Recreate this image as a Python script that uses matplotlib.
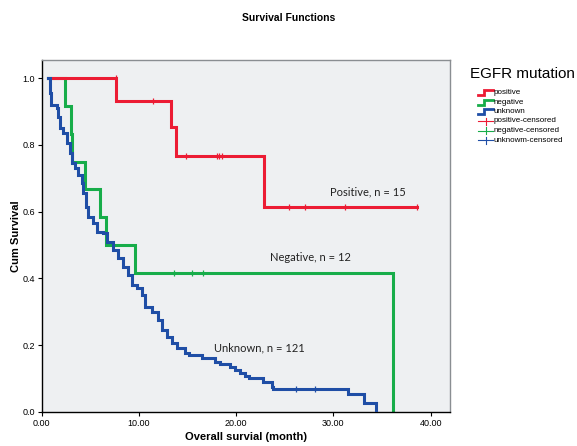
import matplotlib
matplotlib.use("Agg")
import matplotlib.pyplot as plt
from matplotlib.lines import Line2D

# ---------------- data ----------------
pos_t = [0.68, 7.65, 13.3, 13.8, 22.9, 38.6]
pos_s = [1.0, 0.932, 0.855, 0.768, 0.615, 0.615]
pos_cens_t = [7.6, 11.4, 14.85, 18.07, 18.27, 18.55, 25.44, 27.06, 31.2, 38.6]
pos_cens_s = [1.0, 0.932, 0.768, 0.768, 0.768, 0.768, 0.615, 0.615, 0.615, 0.615]

neg_t = [0.68, 2.4, 3.0, 3.08, 4.45, 6.0, 6.6, 9.55, 36.1]
neg_s = [1.0, 0.917, 0.833, 0.75, 0.667, 0.583, 0.5, 0.417, 0.0]
neg_cens_t = [13.6, 15.5, 16.6]
neg_cens_s = [0.417, 0.417, 0.417]

unk_t = [0.68, 0.85, 0.96, 1.54, 1.71, 1.88, 2.22, 2.57, 2.91, 3.09, 3.43,
         3.77, 4.12, 4.28, 4.56, 4.80, 5.31, 5.66, 6.34, 6.69, 7.37, 7.88,
         8.40, 8.91, 9.26, 9.77, 10.29, 10.63, 11.30, 12.00, 12.35, 12.86,
         13.37, 13.90, 14.74, 15.10, 16.46, 17.83, 18.34, 19.4, 19.9, 20.4,
         20.9, 21.3, 22.8, 23.7, 23.8, 31.5, 33.1, 34.4]
unk_s = [1.0, 0.955, 0.92, 0.91, 0.885, 0.85, 0.835, 0.805, 0.775, 0.745, 0.73,
         0.71, 0.685, 0.655, 0.615, 0.585, 0.565, 0.54, 0.535, 0.51, 0.485, 0.46,
         0.435, 0.41, 0.38, 0.37, 0.35, 0.315, 0.30, 0.275, 0.245, 0.225,
         0.205, 0.19, 0.177, 0.17, 0.16, 0.15, 0.142, 0.135, 0.125, 0.117,
         0.108, 0.10, 0.09, 0.075, 0.068, 0.053, 0.027, 0.0]
unk_cens_t = [26.2, 28.1]
unk_cens_s = [0.068, 0.068]

x_ticks = [0, 10, 20, 30, 40]
x_labels = ["0.00", "10.00", "20.00", "30.00", "40.00"]
y_ticks = [0.0, 0.2, 0.4, 0.6, 0.8, 1.0]
y_labels = ["0.0", "0.2", "0.4", "0.6", "0.8", "1.0"]

legend_labels = ["positive", "negative", "unknown",
                 "positive-censored", "negative-censored", "unknowm-censored"]
annotations = [("Positive, n = 15", 29.7, 0.659),
               ("Negative, n = 12", 23.5, 0.462),
               ("Unknown, n = 121", 17.7, 0.19)]

RED = "#EC1C34"
GREEN = "#17AD4A"
BLUE = "#1F4EA6"

# ---------------- figure ----------------
fig = plt.figure(figsize=(5.77, 4.46), dpi=100)
fig.patch.set_facecolor("white")
ax = fig.add_axes([0.0723, 0.0769, 0.7068, 0.7886])
ax.set_facecolor("#EEF0F2")

lw = 2.2
ax.step(pos_t, pos_s, where="post", color=RED, lw=lw, solid_joinstyle="miter", zorder=3)
ax.step(neg_t, neg_s, where="post", color=GREEN, lw=lw, solid_joinstyle="miter", zorder=2)
ax.step(unk_t, unk_s, where="post", color=BLUE, lw=lw, solid_joinstyle="miter", zorder=4)

for t, s, c in [(pos_cens_t, pos_cens_s, RED), (neg_cens_t, neg_cens_s, GREEN),
                (unk_cens_t, unk_cens_s, BLUE)]:
    ax.plot(t, s, linestyle="none", marker="|", markersize=4.5, mew=0.9, color=c, zorder=5)

ax.set_xlim(0, 41.95)
ax.set_ylim(0, 1.055)
ax.set_xticks(x_ticks)
ax.set_xticklabels(x_labels)
ax.set_yticks(y_ticks)
ax.set_yticklabels(y_labels)
ax.tick_params(direction="out", length=3, width=0.8, labelsize=6.5, pad=2)
for lab in ax.get_xticklabels() + ax.get_yticklabels():
    lab.set_fontfamily("Liberation Sans")

for side in ["left", "bottom"]:
    ax.spines[side].set_color("black")
    ax.spines[side].set_linewidth(1.0)
for side in ["top", "right"]:
    ax.spines[side].set_color("#8A8E92")
    ax.spines[side].set_linewidth(1.0)

ax.set_xlabel("Overall survial (month)", fontsize=8, fontweight="bold",
              family="Liberation Sans", labelpad=3)
ax.set_ylabel("Cum Survival", fontsize=8, fontweight="bold",
              family="Liberation Sans", labelpad=1)

for txt, x, y in annotations:
    ax.text(x, y, txt, fontsize=8, family="Lato", color="#222222",
            ha="left", va="center", zorder=6)

fig.text(0.5, 1 - 18 / 446, "Survival Functions", ha="center", va="center",
         fontsize=7.5, fontweight="bold", family="Liberation Sans")

# ---------------- legend (outside, manual) ----------------
W, H = 577.0, 446.0
fig.text(470 / W, 1 - 74 / H, "EGFR mutation", fontsize=11, family="Liberation Sans",
         ha="left", va="center")
colors = [RED, GREEN, BLUE, RED, GREEN, BLUE]
ys = [92.5, 102.0, 111.5, 121.0, 130.5, 140.0]
x0, x1 = 478.0, 493.0
for i, (lab, c, yy) in enumerate(zip(legend_labels, colors, ys)):
    if i < 3:
        xs = [x0, x0 + 6, x0 + 6, x1]
        yv = [yy + 2.5, yy + 2.5, yy - 2.5, yy - 2.5]
        fig.add_artist(Line2D([v / W for v in xs], [1 - v / H for v in yv],
                              transform=fig.transFigure, color=c, lw=2.0,
                              solid_joinstyle="miter"))
    else:
        fig.add_artist(Line2D([x0 / W, x1 / W], [1 - yy / H, 1 - yy / H],
                              transform=fig.transFigure, color=c, lw=0.8))
        xm = (x0 + x1) / 2
        fig.add_artist(Line2D([xm / W, xm / W], [1 - (yy - 3.5) / H, 1 - (yy + 3.5) / H],
                              transform=fig.transFigure, color=c, lw=0.8))
    fig.text(494 / W, 1 - yy / H, lab, fontsize=5.8, family="Liberation Sans",
             ha="left", va="center")

fig.savefig("out.png", dpi=100, facecolor="white")
